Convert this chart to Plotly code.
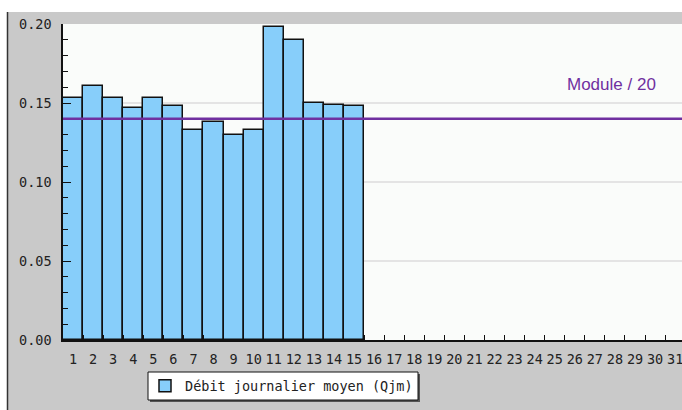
import plotly.graph_objects as go

days = [str(d) for d in range(1, 32)]
qjm = [0.153, 0.161, 0.153, 0.147, 0.153, 0.148, 0.133, 0.138, 0.130, 0.133,
       0.198, 0.190, 0.150, 0.149, 0.148]
module_20 = 0.140
y_ticks = [0.00, 0.05, 0.10, 0.15, 0.20]
y_labels = ["0.00", "0.05", "0.10", "0.15", "0.20"]

W, H = 682, 410
L, R, T, B = 63, 0, 24, 70
PW, PH = W - L - R, H - T - B


def px(x):
    return (x - L) / PW


def py(y):
    return (H - B - y) / PH


MONO = "DejaVu Sans Mono, Liberation Mono, monospace"
GRAY = "#c9c9c9"

fig = go.Figure()
fig.add_trace(go.Bar(
    x=days[:len(qjm)], y=qjm,
    name="Débit journalier moyen (Qjm)",
    marker=dict(color="#87cefa", line=dict(color="#111111", width=1.5)),
    showlegend=True,
))

shapes = [
    # white top strip and left strip over gray paper
    dict(type="rect", xref="paper", yref="paper", x0=px(-5), x1=px(W + 5),
         y0=py(12), y1=py(-5), fillcolor="white", line=dict(width=0), layer="below"),
    dict(type="rect", xref="paper", yref="paper", x0=px(-5), x1=px(7),
         y0=py(H + 5), y1=py(-5), fillcolor="white", line=dict(width=0), layer="below"),
    dict(type="line", xref="paper", yref="paper", x0=px(7.5), x1=px(7.5),
         y0=py(12), y1=py(H + 5), line=dict(color="#333333", width=1.5), layer="below"),
    # module / 20 line
    dict(type="line", xref="paper", yref="y", x0=0, x1=1, y0=module_20, y1=module_20,
         line=dict(color="#7030a0", width=2.5), layer="above"),
    # legend box with shadow
    dict(type="rect", xref="paper", yref="paper", x0=px(150), x1=px(420),
         y0=py(402), y1=py(374), fillcolor="#555555", line=dict(width=0), layer="below"),
    dict(type="rect", xref="paper", yref="paper", x0=px(148), x1=px(418),
         y0=py(400), y1=py(372), fillcolor="white", line=dict(color="#111111", width=1),
         layer="below"),
]

fig.update_layout(
    template="none",
    width=W, height=H,
    margin=dict(l=L, r=R, t=T, b=B, pad=0, autoexpand=False),
    paper_bgcolor=GRAY,
    plot_bgcolor="#fafcfa",
    bargap=0,
    shapes=shapes,
    showlegend=True,
    legend=dict(
        x=px(145), y=py(386), xanchor="left", yanchor="middle",
        bgcolor="rgba(0,0,0,0)", borderwidth=0,
        font=dict(family=MONO, size=13.5, color="#222222"),
        itemwidth=30,
    ),
    annotations=[dict(
        text="Module / 20", xref="paper", yref="paper",
        x=px(611), y=py(84), xanchor="center", yanchor="middle", showarrow=False,
        font=dict(family="Liberation Sans, Arial, sans-serif", size=17, color="#7030a0"),
    )],
    xaxis=dict(
        type="category", categoryorder="array", categoryarray=days,
        range=[-0.5, -0.5 + PW / 20.07],
        tickmode="array", tickvals=days, ticktext=days, tickangle=0,
        showline=True, linecolor="#111111", linewidth=1.5,
        ticks="inside", tickson="boundaries", ticklen=5, tickcolor="#111111", tickwidth=1.2,
        showgrid=False, zeroline=False, automargin=False,
        tickfont=dict(family=MONO, size=13.5, color="#222222"),
        ticklabelstandoff=6,
        fixedrange=True,
    ),
    yaxis=dict(
        range=[0, 0.2],
        tickmode="array", tickvals=y_ticks, ticktext=y_labels,
        showline=True, linecolor="#111111", linewidth=1.5,
        ticks="inside", ticklen=8, tickcolor="#111111", tickwidth=1.2,
        minor=dict(dtick=0.01, ticks="inside", ticklen=5, tickcolor="#111111",
                   tickwidth=1.2, showgrid=False),
        showgrid=True, gridcolor="#e4e4e4", gridwidth=1.5,
        zeroline=False, automargin=False,
        tickfont=dict(family=MONO, size=13.5, color="#222222"),
        ticklabelstandoff=7,
        fixedrange=True,
    ),
)

fig.write_html(
    "out.html",
    config={"displayModeBar": False},
    post_script="document.body.style.margin='0';document.body.style.overflow='hidden';",
)
